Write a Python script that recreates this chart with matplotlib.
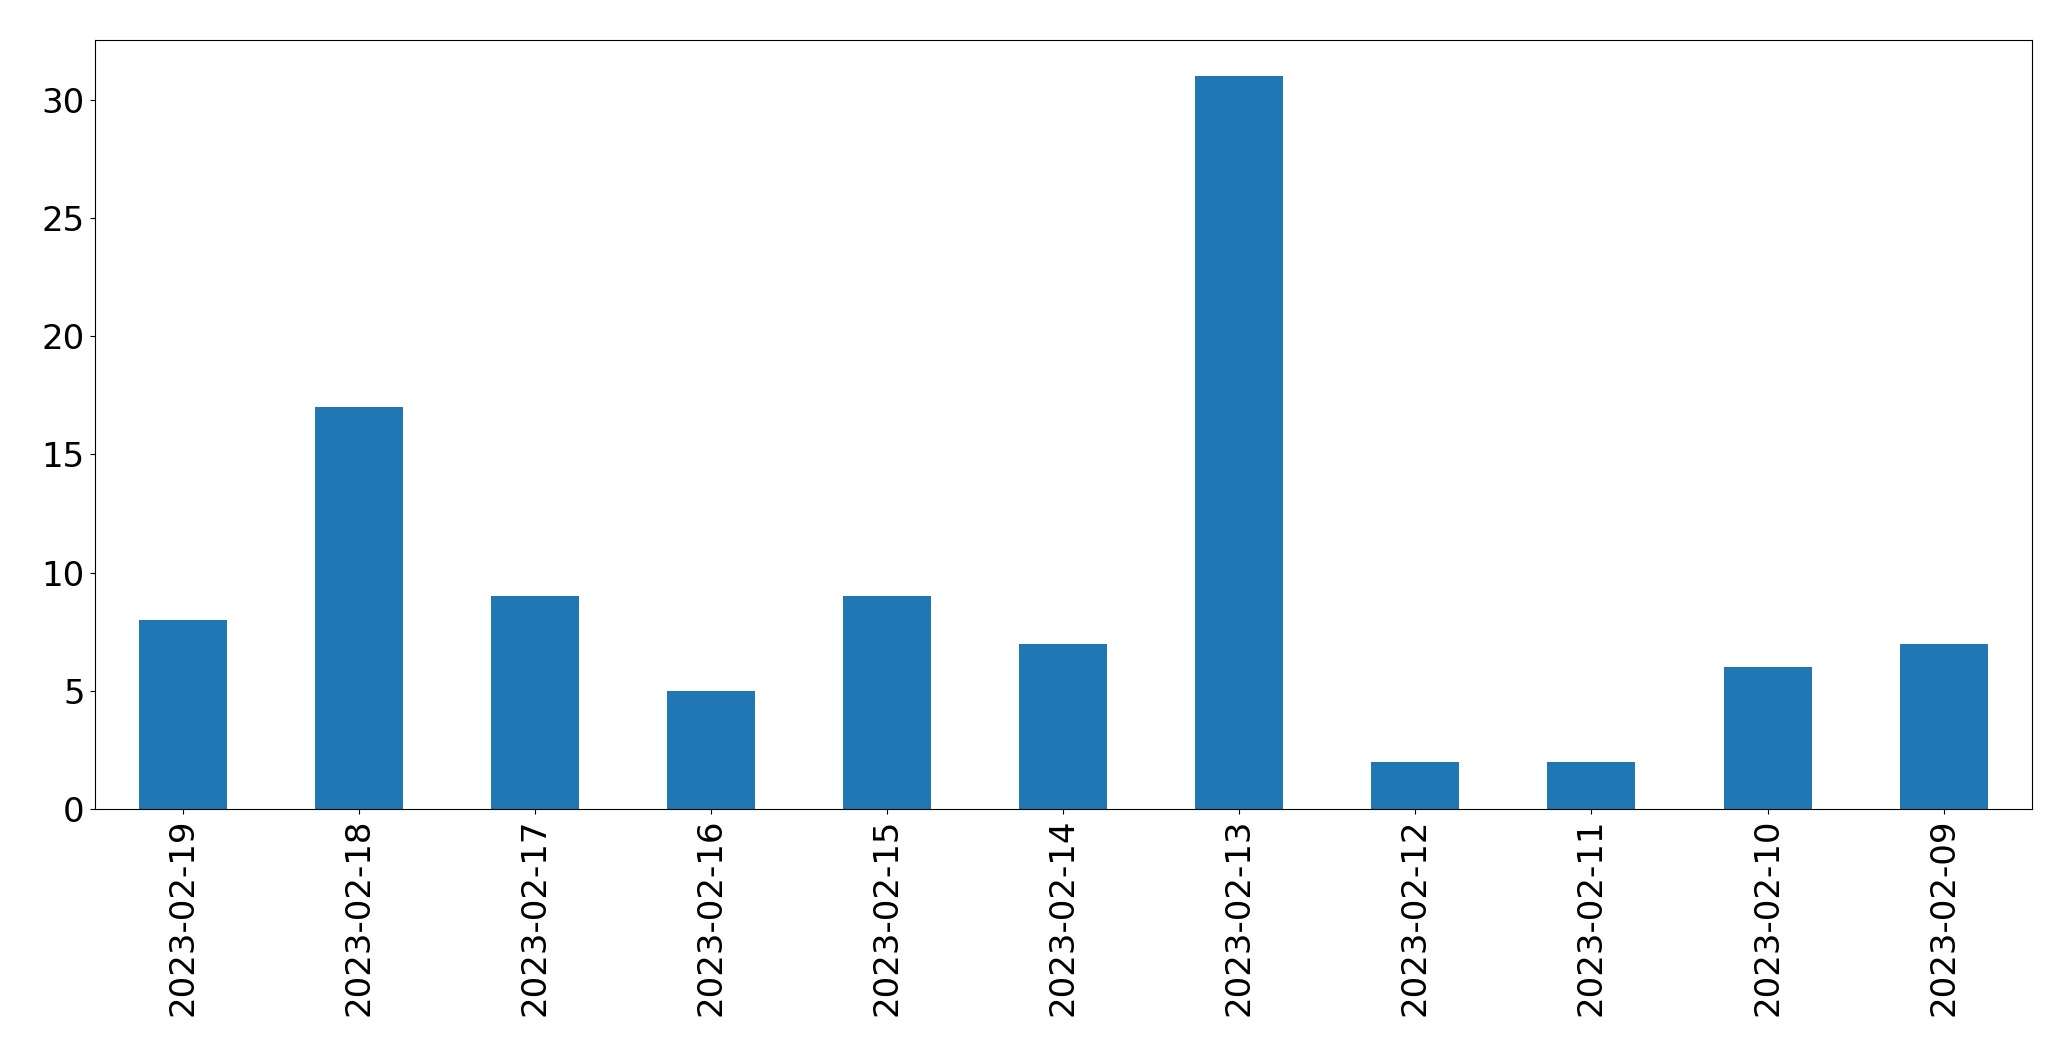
import matplotlib.pyplot as plt
import pandas as pd

dates = ['2023-02-19', '2023-02-18', '2023-02-17', '2023-02-16', '2023-02-15', '2023-02-14',
         '2023-02-13', '2023-02-12', '2023-02-11', '2023-02-10', '2023-02-09']
counts = [8, 17, 9, 5, 9, 7, 31, 2, 2, 6, 7]

s = pd.Series(counts, index=dates)

fig = plt.figure(figsize=(20.71, 10.61), dpi=100)
ax = fig.add_axes([94.5 / 2071, 1 - 809 / 1061, (2031.7 - 94.5) / 2071, (809 - 39.5) / 1061])

s.plot.bar(ax=ax, color='#1f77b4', fontsize=24.5)

fig.savefig("out.png", dpi=100)
